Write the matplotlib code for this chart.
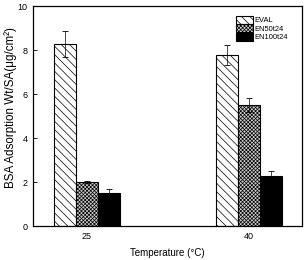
import matplotlib
matplotlib.use("Agg")
import matplotlib.pyplot as plt
import numpy as np

plt.rcParams['font.family'] = ['Liberation Sans', 'DejaVu Sans']
plt.rcParams['hatch.linewidth'] = 0.5

categories = ['25', '40']
series = ['EVAL', 'EN50t24', 'EN100t24']
values = {
    'EVAL': [8.27, 7.77],
    'EN50t24': [2.01, 5.50],
    'EN100t24': [1.48, 2.29],
}
errors = {
    'EVAL': [0.58, 0.45],
    'EN50t24': [0.05, 0.30],
    'EN100t24': [0.22, 0.20],
}
styles = {
    'EVAL': dict(facecolor='white', hatch='\\\\\\\\'),
    'EN50t24': dict(facecolor='#cccccc', hatch='xxxxxxxxx'),
    'EN100t24': dict(facecolor='black', hatch=None),
}

fig = plt.figure(figsize=(3.06, 2.6), dpi=100)
ax = fig.add_axes([33/306, 1-226/260, (302-33)/306, (226-6)/260])

x = np.arange(len(categories))
w = 0.134
for i, s in enumerate(series):
    pos = x + (i - 1) * w
    st = styles[s]
    ax.bar(pos, values[s], width=w, facecolor=st['facecolor'], hatch=st['hatch'],
           edgecolor='black', linewidth=0.8, label=s, zorder=2)
    ax.errorbar(pos, values[s], yerr=errors[s], fmt='none', ecolor='black',
                elinewidth=0.5, capsize=2, capthick=0.6, zorder=3)

ax.set_xlim(-0.333, 1.327)
ax.set_ylim(0, 10)
ax.set_yticks([0, 2, 4, 6, 8, 10])
ax.set_xticks(x)
ax.set_xticklabels(categories)
ax.tick_params(direction='in', length=3, width=0.6, labelsize=6.5, pad=4)
for sp in ax.spines.values():
    sp.set_linewidth(0.9)

ax.set_xlabel('Temperature (\u00b0C)', fontsize=7, labelpad=5)
ax.set_ylabel('BSA Adsorption Wt/SA(\u03bcg/cm\u00b2)', fontsize=8.4)
ax.yaxis.set_label_coords(-0.06, 0.54)

leg = ax.legend(loc='upper left', bbox_to_anchor=(0.755, 0.955), fontsize=5.4, frameon=False,
                handlelength=2.3, handleheight=1.25, handletextpad=0.2,
                labelspacing=0.0, borderaxespad=0.0, borderpad=0.0)

fig.savefig('out.png', dpi=100)
